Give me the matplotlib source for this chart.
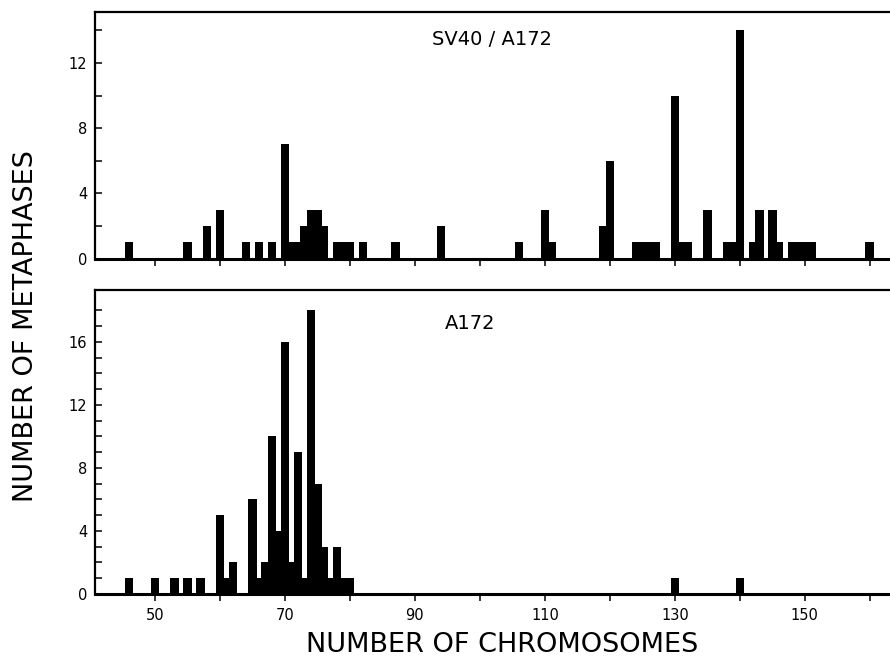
import matplotlib

matplotlib.use("Agg")
import matplotlib.pyplot as plt

# chromosome counts per metaphase
sv40_chrom = [46, 55, 58, 60, 64, 66, 68, 70, 71, 72, 73, 74, 75, 76, 78, 79, 80, 82, 87, 94,
              106, 110, 111, 119, 120, 124, 125, 126, 127, 130, 131, 132, 135, 138, 139, 140,
              142, 143, 145, 146, 148, 149, 150, 151, 160]
sv40_count = [1, 1, 2, 3, 1, 1, 1, 7, 1, 1, 2, 3, 3, 2, 1, 1, 1, 1, 1, 2,
              1, 3, 1, 2, 6, 1, 1, 1, 1, 10, 1, 1, 3, 1, 1, 14,
              1, 3, 3, 1, 1, 1, 1, 1, 1]

a172_chrom = [46, 50, 53, 55, 57, 60, 61, 62, 65, 66, 67, 68, 69, 70, 71, 72, 73, 74, 75, 76,
              77, 78, 79, 80, 130, 140]
a172_count = [1, 1, 1, 1, 1, 5, 1, 2, 6, 1, 2, 10, 4, 16, 2, 9, 1, 18, 7, 3,
              1, 3, 1, 1, 1, 1]

x_ticks = list(range(50, 161, 10))
x_labels = ["50", "", "70", "", "90", "", "110", "", "130", "", "150", ""]

fig = plt.figure(figsize=(8.9, 6.58), dpi=100)
ax_top = fig.add_axes([0.1073, 0.6071, 0.8927, 0.3751])
ax_bot = fig.add_axes([0.1073, 0.0973, 0.8927, 0.4620])

panels = [
    (ax_top, sv40_chrom, sv40_count, 15.15, list(range(0, 15, 2))),
    (ax_bot, a172_chrom, a172_count, 19.3, list(range(0, 19))),
]
for ax, chrom, count, ytop, yticks in panels:
    ax.bar(chrom, count, width=1.34, color="black", edgecolor="none")
    ax.set_xlim(40.85, 163.1)
    ax.set_ylim(0, ytop)
    ax.spines["right"].set_visible(False)
    for side in ("left", "top"):
        ax.spines[side].set_linewidth(1.6)
    ax.spines["bottom"].set_linewidth(2.2)
    ax.set_yticks(yticks)
    ax.set_yticklabels([str(v) if v % 4 == 0 else "" for v in yticks])
    ax.set_xticks(x_ticks)
    ax.tick_params(axis="y", direction="in", length=5, width=1.1, pad=6, labelsize=10.5)
    ax.tick_params(axis="x", direction="out", length=5, width=1.1, pad=5, labelsize=10.5)

ax_top.set_xticklabels([])
ax_bot.set_xticklabels(x_labels)

fig.text(0.485, 1 - 45 / 658, "SV40 / A172", fontsize=14, ha="left", va="baseline")
fig.text(0.500, 1 - 329 / 658, "A172", fontsize=14, ha="left", va="baseline")

fig.text(26 / 890, 1 - 326 / 658, "NUMBER OF METAPHASES", fontsize=19.5,
         rotation=90, ha="center", va="center")
fig.text(0.564, 1 - 652 / 658, "NUMBER OF CHROMOSOMES", fontsize=19.5,
         ha="center", va="baseline")

fig.savefig("out.png", dpi=100)
